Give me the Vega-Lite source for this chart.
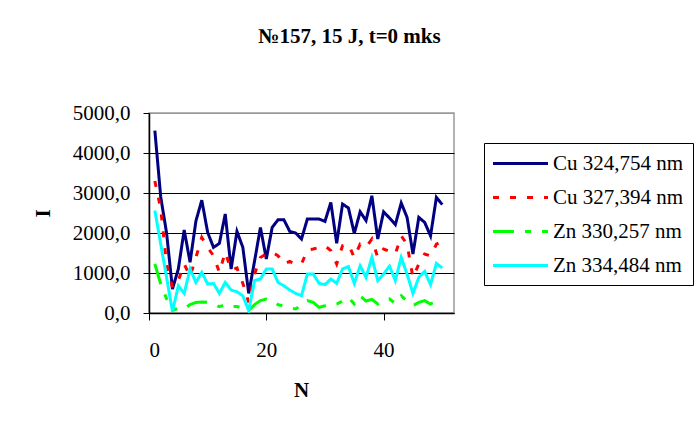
{
  "$schema": "https://vega.github.io/schema/vega-lite/v6.json",
  "width": 305,
  "height": 200,
  "autosize": {"type": "none"},
  "padding": {"left": 149, "top": 113, "right": 240, "bottom": 108},
  "background": "white",
  "title": {
    "text": "№157, 15 J, t=0 mks",
    "font": "Liberation Serif",
    "fontSize": 21,
    "fontWeight": "bold",
    "color": "black",
    "anchor": "middle",
    "dx": 48,
    "offset": 55
  },
  "data": {"values": [
    {"N":1,"s":"Cu 324,754 nm","I":4560},{"N":2,"s":"Cu 324,754 nm","I":2900},{"N":3,"s":"Cu 324,754 nm","I":2000},{"N":4,"s":"Cu 324,754 nm","I":600},{"N":5,"s":"Cu 324,754 nm","I":1100},
    {"N":6,"s":"Cu 324,754 nm","I":2075},{"N":7,"s":"Cu 324,754 nm","I":1270},{"N":8,"s":"Cu 324,754 nm","I":2300},{"N":9,"s":"Cu 324,754 nm","I":2820},{"N":10,"s":"Cu 324,754 nm","I":2015},
    {"N":11,"s":"Cu 324,754 nm","I":1640},{"N":12,"s":"Cu 324,754 nm","I":1740},{"N":13,"s":"Cu 324,754 nm","I":2475},{"N":14,"s":"Cu 324,754 nm","I":1100},{"N":15,"s":"Cu 324,754 nm","I":2040},
    {"N":16,"s":"Cu 324,754 nm","I":1640},{"N":17,"s":"Cu 324,754 nm","I":490},{"N":18,"s":"Cu 324,754 nm","I":1300},{"N":19,"s":"Cu 324,754 nm","I":2140},{"N":20,"s":"Cu 324,754 nm","I":1350},
    {"N":21,"s":"Cu 324,754 nm","I":2140},{"N":22,"s":"Cu 324,754 nm","I":2330},{"N":23,"s":"Cu 324,754 nm","I":2330},{"N":24,"s":"Cu 324,754 nm","I":2040},{"N":25,"s":"Cu 324,754 nm","I":2000},
    {"N":26,"s":"Cu 324,754 nm","I":1850},{"N":27,"s":"Cu 324,754 nm","I":2350},{"N":28,"s":"Cu 324,754 nm","I":2350},{"N":29,"s":"Cu 324,754 nm","I":2350},{"N":30,"s":"Cu 324,754 nm","I":2290},
    {"N":31,"s":"Cu 324,754 nm","I":2765},{"N":32,"s":"Cu 324,754 nm","I":1740},{"N":33,"s":"Cu 324,754 nm","I":2725},{"N":34,"s":"Cu 324,754 nm","I":2625},{"N":35,"s":"Cu 324,754 nm","I":1990},
    {"N":36,"s":"Cu 324,754 nm","I":2530},{"N":37,"s":"Cu 324,754 nm","I":2310},{"N":38,"s":"Cu 324,754 nm","I":2930},{"N":39,"s":"Cu 324,754 nm","I":1850},{"N":40,"s":"Cu 324,754 nm","I":2530},
    {"N":41,"s":"Cu 324,754 nm","I":2375},{"N":42,"s":"Cu 324,754 nm","I":2210},{"N":43,"s":"Cu 324,754 nm","I":2750},{"N":44,"s":"Cu 324,754 nm","I":2390},{"N":45,"s":"Cu 324,754 nm","I":1475},
    {"N":46,"s":"Cu 324,754 nm","I":2390},{"N":47,"s":"Cu 324,754 nm","I":2265},{"N":48,"s":"Cu 324,754 nm","I":1930},{"N":49,"s":"Cu 324,754 nm","I":2890},{"N":50,"s":"Cu 324,754 nm","I":2710},

    {"N":1,"s":"Cu 327,394 nm","I":3300},{"N":2,"s":"Cu 327,394 nm","I":2600},{"N":3,"s":"Cu 327,394 nm","I":1225},{"N":4,"s":"Cu 327,394 nm","I":640},{"N":5,"s":"Cu 327,394 nm","I":810},
    {"N":6,"s":"Cu 327,394 nm","I":1225},{"N":7,"s":"Cu 327,394 nm","I":910},{"N":8,"s":"Cu 327,394 nm","I":1390},{"N":9,"s":"Cu 327,394 nm","I":1890},{"N":10,"s":"Cu 327,394 nm","I":1640},
    {"N":11,"s":"Cu 327,394 nm","I":1430},{"N":12,"s":"Cu 327,394 nm","I":1015},{"N":13,"s":"Cu 327,394 nm","I":1520},{"N":14,"s":"Cu 327,394 nm","I":1075},{"N":15,"s":"Cu 327,394 nm","I":1125},
    {"N":16,"s":"Cu 327,394 nm","I":740},{"N":17,"s":"Cu 327,394 nm","I":265},{"N":18,"s":"Cu 327,394 nm","I":975},{"N":19,"s":"Cu 327,394 nm","I":1390},{"N":20,"s":"Cu 327,394 nm","I":1475},
    {"N":21,"s":"Cu 327,394 nm","I":1520},{"N":22,"s":"Cu 327,394 nm","I":1430},{"N":23,"s":"Cu 327,394 nm","I":1225},{"N":24,"s":"Cu 327,394 nm","I":1290},{"N":25,"s":"Cu 327,394 nm","I":1225},
    {"N":26,"s":"Cu 327,394 nm","I":1225},{"N":27,"s":"Cu 327,394 nm","I":1575},{"N":28,"s":"Cu 327,394 nm","I":1600},{"N":29,"s":"Cu 327,394 nm","I":1640},{"N":30,"s":"Cu 327,394 nm","I":1680},
    {"N":31,"s":"Cu 327,394 nm","I":1560},{"N":32,"s":"Cu 327,394 nm","I":1225},{"N":33,"s":"Cu 327,394 nm","I":1680},{"N":34,"s":"Cu 327,394 nm","I":1720},{"N":35,"s":"Cu 327,394 nm","I":1390},
    {"N":36,"s":"Cu 327,394 nm","I":1720},{"N":37,"s":"Cu 327,394 nm","I":1640},{"N":38,"s":"Cu 327,394 nm","I":1850},{"N":39,"s":"Cu 327,394 nm","I":1390},{"N":40,"s":"Cu 327,394 nm","I":1600},
    {"N":41,"s":"Cu 327,394 nm","I":1540},{"N":42,"s":"Cu 327,394 nm","I":1475},{"N":43,"s":"Cu 327,394 nm","I":1930},{"N":44,"s":"Cu 327,394 nm","I":1720},{"N":45,"s":"Cu 327,394 nm","I":890},
    {"N":46,"s":"Cu 327,394 nm","I":1225},{"N":47,"s":"Cu 327,394 nm","I":1475},{"N":48,"s":"Cu 327,394 nm","I":1430},{"N":49,"s":"Cu 327,394 nm","I":1720},{"N":50,"s":"Cu 327,394 nm","I":1800},

    {"N":1,"s":"Zn 330,257 nm","I":1225},{"N":2,"s":"Zn 330,257 nm","I":725},{"N":3,"s":"Zn 330,257 nm","I":350},{"N":4,"s":"Zn 330,257 nm","I":60},{"N":5,"s":"Zn 330,257 nm","I":125},
    {"N":6,"s":"Zn 330,257 nm","I":100},{"N":7,"s":"Zn 330,257 nm","I":210},{"N":8,"s":"Zn 330,257 nm","I":265},{"N":9,"s":"Zn 330,257 nm","I":275},{"N":10,"s":"Zn 330,257 nm","I":265},
    {"N":11,"s":"Zn 330,257 nm","I":220},{"N":12,"s":"Zn 330,257 nm","I":160},{"N":13,"s":"Zn 330,257 nm","I":210},{"N":14,"s":"Zn 330,257 nm","I":160},{"N":15,"s":"Zn 330,257 nm","I":160},
    {"N":16,"s":"Zn 330,257 nm","I":120},{"N":17,"s":"Zn 330,257 nm","I":60},{"N":18,"s":"Zn 330,257 nm","I":210},{"N":19,"s":"Zn 330,257 nm","I":310},{"N":20,"s":"Zn 330,257 nm","I":350},
    {"N":21,"s":"Zn 330,257 nm","I":310},{"N":22,"s":"Zn 330,257 nm","I":210},{"N":23,"s":"Zn 330,257 nm","I":170},{"N":24,"s":"Zn 330,257 nm","I":125},{"N":25,"s":"Zn 330,257 nm","I":100},
    {"N":26,"s":"Zn 330,257 nm","I":200},{"N":27,"s":"Zn 330,257 nm","I":310},{"N":28,"s":"Zn 330,257 nm","I":265},{"N":29,"s":"Zn 330,257 nm","I":140},{"N":30,"s":"Zn 330,257 nm","I":180},
    {"N":31,"s":"Zn 330,257 nm","I":225},{"N":32,"s":"Zn 330,257 nm","I":225},{"N":33,"s":"Zn 330,257 nm","I":300},{"N":34,"s":"Zn 330,257 nm","I":390},{"N":35,"s":"Zn 330,257 nm","I":225},
    {"N":36,"s":"Zn 330,257 nm","I":430},{"N":37,"s":"Zn 330,257 nm","I":300},{"N":38,"s":"Zn 330,257 nm","I":340},{"N":39,"s":"Zn 330,257 nm","I":225},{"N":40,"s":"Zn 330,257 nm","I":310},
    {"N":41,"s":"Zn 330,257 nm","I":350},{"N":42,"s":"Zn 330,257 nm","I":240},{"N":43,"s":"Zn 330,257 nm","I":430},{"N":44,"s":"Zn 330,257 nm","I":300},{"N":45,"s":"Zn 330,257 nm","I":185},
    {"N":46,"s":"Zn 330,257 nm","I":265},{"N":47,"s":"Zn 330,257 nm","I":310},{"N":48,"s":"Zn 330,257 nm","I":225},{"N":49,"s":"Zn 330,257 nm","I":290},{"N":50,"s":"Zn 330,257 nm","I":350},

    {"N":1,"s":"Zn 334,484 nm","I":2560},{"N":2,"s":"Zn 334,484 nm","I":1725},{"N":3,"s":"Zn 334,484 nm","I":890},{"N":4,"s":"Zn 334,484 nm","I":40},{"N":5,"s":"Zn 334,484 nm","I":680},
    {"N":6,"s":"Zn 334,484 nm","I":490},{"N":7,"s":"Zn 334,484 nm","I":1100},{"N":8,"s":"Zn 334,484 nm","I":765},{"N":9,"s":"Zn 334,484 nm","I":1015},{"N":10,"s":"Zn 334,484 nm","I":725},
    {"N":11,"s":"Zn 334,484 nm","I":740},{"N":12,"s":"Zn 334,484 nm","I":490},{"N":13,"s":"Zn 334,484 nm","I":765},{"N":14,"s":"Zn 334,484 nm","I":575},{"N":15,"s":"Zn 334,484 nm","I":530},
    {"N":16,"s":"Zn 334,484 nm","I":430},{"N":17,"s":"Zn 334,484 nm","I":60},{"N":18,"s":"Zn 334,484 nm","I":810},{"N":19,"s":"Zn 334,484 nm","I":850},{"N":20,"s":"Zn 334,484 nm","I":1100},
    {"N":21,"s":"Zn 334,484 nm","I":1100},{"N":22,"s":"Zn 334,484 nm","I":765},{"N":23,"s":"Zn 334,484 nm","I":680},{"N":24,"s":"Zn 334,484 nm","I":575},{"N":25,"s":"Zn 334,484 nm","I":490},
    {"N":26,"s":"Zn 334,484 nm","I":435},{"N":27,"s":"Zn 334,484 nm","I":975},{"N":28,"s":"Zn 334,484 nm","I":975},{"N":29,"s":"Zn 334,484 nm","I":740},{"N":30,"s":"Zn 334,484 nm","I":710},
    {"N":31,"s":"Zn 334,484 nm","I":850},{"N":32,"s":"Zn 334,484 nm","I":740},{"N":33,"s":"Zn 334,484 nm","I":1100},{"N":34,"s":"Zn 334,484 nm","I":1160},{"N":35,"s":"Zn 334,484 nm","I":740},
    {"N":36,"s":"Zn 334,484 nm","I":1180},{"N":37,"s":"Zn 334,484 nm","I":890},{"N":38,"s":"Zn 334,484 nm","I":1390},{"N":39,"s":"Zn 334,484 nm","I":810},{"N":40,"s":"Zn 334,484 nm","I":975},
    {"N":41,"s":"Zn 334,484 nm","I":1170},{"N":42,"s":"Zn 334,484 nm","I":810},{"N":43,"s":"Zn 334,484 nm","I":1390},{"N":44,"s":"Zn 334,484 nm","I":975},{"N":45,"s":"Zn 334,484 nm","I":490},
    {"N":46,"s":"Zn 334,484 nm","I":890},{"N":47,"s":"Zn 334,484 nm","I":1040},{"N":48,"s":"Zn 334,484 nm","I":710},{"N":49,"s":"Zn 334,484 nm","I":1240},{"N":50,"s":"Zn 334,484 nm","I":1125}
  ]},
  "mark": {"type": "line", "strokeWidth": 3, "clip": true},
  "encoding": {
    "x": {
      "field": "N", "type": "quantitative",
      "scale": {"domain": [0, 52], "nice": false, "zero": false},
      "axis": {
        "values": [0, 20, 40],
        "title": "N",
        "grid": false,
        "domainColor": "black",
        "domainWidth": 1.5,
        "tickColor": "black",
        "tickSize": 7,
        "labelFont": "Liberation Serif",
        "labelFontSize": 21,
        "labelColor": "black",
        "labelBaseline": "middle",
        "labelPadding": 30,
        "titleFont": "Liberation Serif",
        "titleFontSize": 21,
        "titleFontWeight": "bold",
        "titleColor": "black",
        "titleX": 152,
        "titleY": 77,
        "titleBaseline": "middle",
        "titleAlign": "center"
      }
    },
    "y": {
      "field": "I", "type": "quantitative",
      "scale": {"domain": [0, 5000], "nice": false},
      "axis": {
        "values": [0, 1000, 2000, 3000, 4000, 5000],
        "labelExpr": "replace(format(datum.value, '.1f'), '.', ',')",
        "title": "I",
        "grid": true,
        "gridColor": {"condition": {"test": "datum.value >= 5000", "value": "#999999"}, "value": "black"},
        "gridOpacity": 1,
        "gridWidth": 1,
        "domainColor": "black",
        "domainWidth": 1.5,
        "tickColor": "black",
        "tickSize": 6,
        "labelFont": "Liberation Serif",
        "labelFontSize": 21,
        "labelColor": "black",
        "labelPadding": 13,
        "titleFont": "Liberation Serif",
        "titleFontSize": 21,
        "titleFontWeight": "bold",
        "titleColor": "black",
        "titleX": -106,
        "titleY": 100,
        "titleAngle": -90,
        "titleBaseline": "middle",
        "titleAlign": "center"
      }
    },
    "color": {
      "field": "s", "type": "nominal",
      "scale": {
        "domain": ["Cu 324,754 nm", "Cu 327,394 nm", "Zn 330,257 nm", "Zn 334,484 nm"],
        "range": ["#000080", "#FF0000", "#00FF00", "#00FFFF"]
      },
      "legend": {
        "title": null,
        "orient": "none",
        "legendX": 335,
        "legendY": 30,
        "strokeColor": "black",
        "fillColor": "white",
        "padding": 9,
        "symbolType": "M-1.15,0H4.35",
        "symbolSize": 400,
        "symbolStrokeWidth": 3,
        "labelOffset": 37,
        "labelFont": "Liberation Serif",
        "labelFontSize": 21,
        "labelColor": "black",
        "labelLimit": 300,
        "rowPadding": 12
      }
    },
    "strokeDash": {
      "field": "s", "type": "nominal",
      "scale": {
        "domain": ["Cu 324,754 nm", "Cu 327,394 nm", "Zn 330,257 nm", "Zn 334,484 nm"],
        "range": [[1, 0], [6, 11], [21, 11, 6, 11, 6, 11], [1, 0]]
      },
      "legend": {
        "title": null,
        "orient": "none",
        "legendX": 335,
        "legendY": 30,
        "strokeColor": "black",
        "fillColor": "white",
        "padding": 9,
        "symbolType": "M-1.15,0H4.35",
        "symbolSize": 400,
        "symbolStrokeWidth": 3,
        "labelOffset": 37,
        "labelFont": "Liberation Serif",
        "labelFontSize": 21,
        "labelColor": "black",
        "labelLimit": 300,
        "rowPadding": 12
      }
    },
    "order": {"field": "N", "type": "quantitative"}
  },
  "config": {
    "view": {"stroke": "#999999", "strokeWidth": 1.5},
    "font": "Liberation Serif"
  }
}
